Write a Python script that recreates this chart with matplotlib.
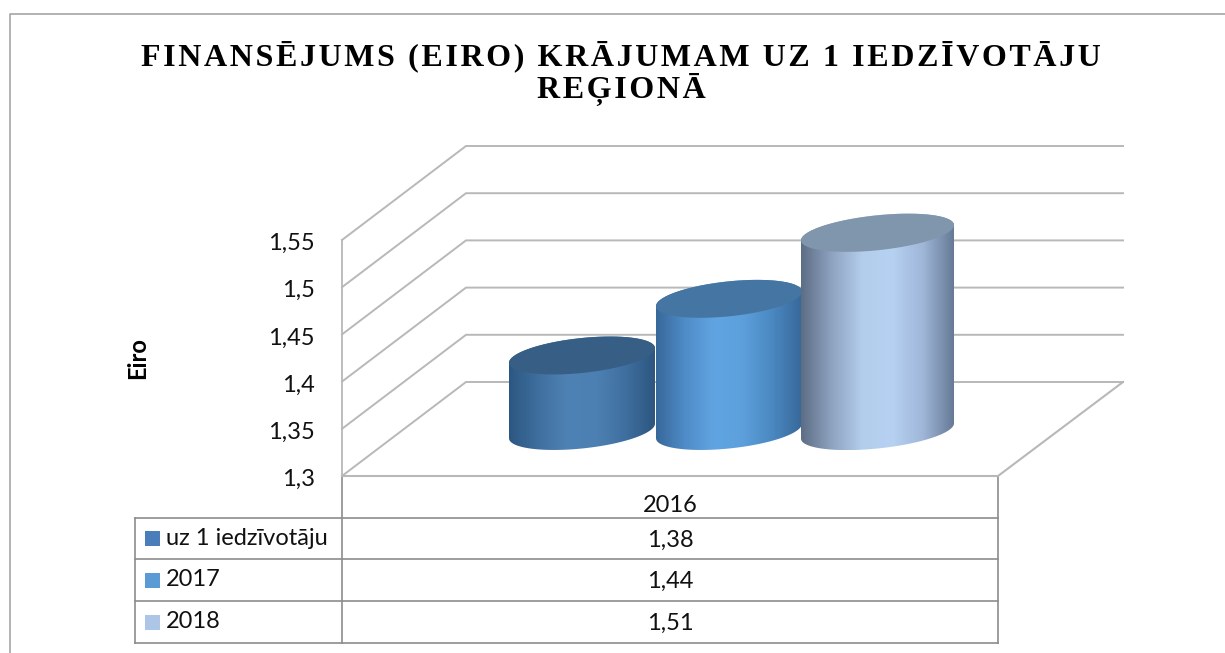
import numpy as np
import matplotlib
matplotlib.use('Agg')
import matplotlib.pyplot as plt
from matplotlib.colors import LinearSegmentedColormap
from matplotlib.patches import PathPatch
from matplotlib.path import Path

# data
title_lines = ['FINANSĒJUMS (EIRO) KRĀJUMAM UZ 1 IEDZĪVOTĀJU', 'REĢIONĀ']
category = '2016'
series_names = ['uz 1 iedzīvotāju', '2017', '2018']
series_values = [1.38, 1.44, 1.51]
value_ticks = [1.3, 1.35, 1.4, 1.45, 1.5, 1.55]
value_labels = ['1,3', '1,35', '1,4', '1,45', '1,5', '1,55']
value_cells = ['1,38', '1,44', '1,51']

# looks
W, H = 1225, 653
PX_PER_UNIT = 944.0   # pixels per euro on the value axis
Y_BASE = 476.0        # pixel row of 1.3 on the front edge
BACK_DX, BACK_DY = 124, -94
GRID = '#b8b8b8'
TABLE = '#8c8c8c'
TEXT_FONT = ['Lato', 'DejaVu Sans']
TEXT_SIZE = 17

bar_x = [582, 729, 877.5]
bar_a = [73, 73, 76.5]
bar_base_y = 431.0
bar_b = 17.5
bar_shear = 0.10
bar_stops = [
    ['#2c5781', '#3f6f9f', '#4f82b4', '#4d80b2', '#3f6f9f', '#2d5680'],
    ['#38689a', '#4f8cc8', '#60a5e2', '#5c9fdb', '#4a88c0', '#38689a'],
    ['#5d6d85', '#8ea3c0', '#b3cdec', '#b6d1f2', '#9fb6d8', '#667a95'],
]
top_colors = ['#375f85', '#4575a2', '#8096ad']
swatch_colors = ['#4a7ebb', '#5b9bd5', '#adc5e7']

fig = plt.figure(figsize=(W / 100, H / 100), dpi=100)

# chrome axes in pixel rows, value axes on top of it for the marks
ax = fig.add_axes([0, 0, 1, 1])
ax.set_xlim(0, W)
ax.set_ylim(H, 0)
ax.axis('off')

vax = fig.add_axes([0, 0, 1, 1], sharex=ax)
vax.set_ylim(1.3 - (H - Y_BASE) / PX_PER_UNIT, 1.3 + Y_BASE / PX_PER_UNIT)
vax.axis('off')
vax.patch.set_alpha(0)

# outer frame, the right side and bottom are cut off in the source
ax.plot([10, 10, W], [H, 13.5, 13.5], color='#a6a6a6', lw=1.2)

# walls
dy_back = BACK_DY / PX_PER_UNIT
for v in value_ticks:
    vax.plot([342, 342 + BACK_DX, 1123], [v, v - dy_back, v - dy_back], color=GRID, lw=1.4, solid_joinstyle='miter')
vax.plot([342, 342], [value_ticks[0], value_ticks[-1]], color=GRID, lw=1.3)
vax.plot([342, 998, 1123], [value_ticks[0], value_ticks[0], value_ticks[0] - dy_back], color=GRID, lw=1.5)


def bar_outline(cx, a, y_top, y_bot):
    """Cylinder side as a path, in value units."""
    t = np.linspace(np.pi, 0, 60)
    xs = cx + a * np.cos(t)
    ys_bot = y_bot + (bar_b * np.sin(t) - bar_shear * (xs - cx)) / -PX_PER_UNIT
    ys_top = y_top + (-bar_b * np.sin(t[::-1]) - bar_shear * (xs[::-1] - cx)) / -PX_PER_UNIT
    return np.column_stack([np.r_[xs, xs[::-1]], np.r_[ys_bot, ys_top]])


base_value = 1.3 + (Y_BASE - bar_base_y) / PX_PER_UNIT
for i, v in enumerate(series_values):
    cx, a = bar_x[i], bar_a[i]
    top = base_value + (v - 1.3)
    pts = bar_outline(cx, a, top, base_value)
    side = PathPatch(Path(pts), fc='none', ec='none', transform=vax.transData)
    vax.add_patch(side)
    cmap = LinearSegmentedColormap.from_list('bar%d' % i, bar_stops[i])
    im = vax.imshow(np.linspace(0, 1, 256)[None, :], cmap=cmap, aspect='auto',
                    extent=[cx - a, cx + a, pts[:, 1].min(), pts[:, 1].max()],
                    interpolation='bilinear', zorder=2 + i)
    im.set_clip_path(side)
    t = np.linspace(0, 2 * np.pi, 100)
    xs = cx + a * np.cos(t)
    ys = top + (bar_b * np.sin(t) - bar_shear * (xs - cx)) / -PX_PER_UNIT
    vax.fill(xs, ys, color=top_colors[i], lw=0, zorder=2 + i + 0.5)
vax.set_xlim(0, W)
vax.set_ylim(1.3 - (H - Y_BASE) / PX_PER_UNIT, 1.3 + Y_BASE / PX_PER_UNIT)

# value tick labels
for v, lab in zip(value_ticks, value_labels):
    vax.text(315, v - 3.5 / PX_PER_UNIT, lab, ha='right', va='center', fontsize=TEXT_SIZE, family=TEXT_FONT, color='#111111')

ax.text(138, 358, 'Eiro', rotation=90, ha='center', va='center', fontsize=17, fontweight='bold', family=TEXT_FONT)

# title, spaced out with hair spaces
for line, y in zip(title_lines, [56, 90]):
    spaced = '\u200a'.join(line)
    ax.text(621, y, spaced, ha='center', va='center', fontsize=23, fontweight='bold',
            family=['Liberation Serif', 'DejaVu Serif'], color='#000000')

# data table under the plot
rows = [518, 559, 601, 643]
ax.plot([342, 342], [476, 643], color=TABLE, lw=1.2)
ax.plot([998, 998], [476, 643], color=TABLE, lw=1.2)
ax.plot([135, 135], [518, 643], color=TABLE, lw=1.2)
for y in rows:
    ax.plot([135, 998], [y, y], color=TABLE, lw=1.2)

ax.text(670, 505, category, ha='center', va='center', fontsize=TEXT_SIZE, family=TEXT_FONT, color='#111111')
for i, name in enumerate(series_names):
    y = (rows[i] + rows[i + 1]) / 2
    ax.fill_between([145, 160], y - 7.5, y + 7.5, color=swatch_colors[i], lw=0)
    ax.text(166, y, name, ha='left', va='center', fontsize=TEXT_SIZE, family=TEXT_FONT, color='#111111')
    ax.text(670, y + 1.5, value_cells[i], ha='center', va='center', fontsize=TEXT_SIZE, family=TEXT_FONT, color='#111111')

fig.savefig('out.png', dpi=100)
